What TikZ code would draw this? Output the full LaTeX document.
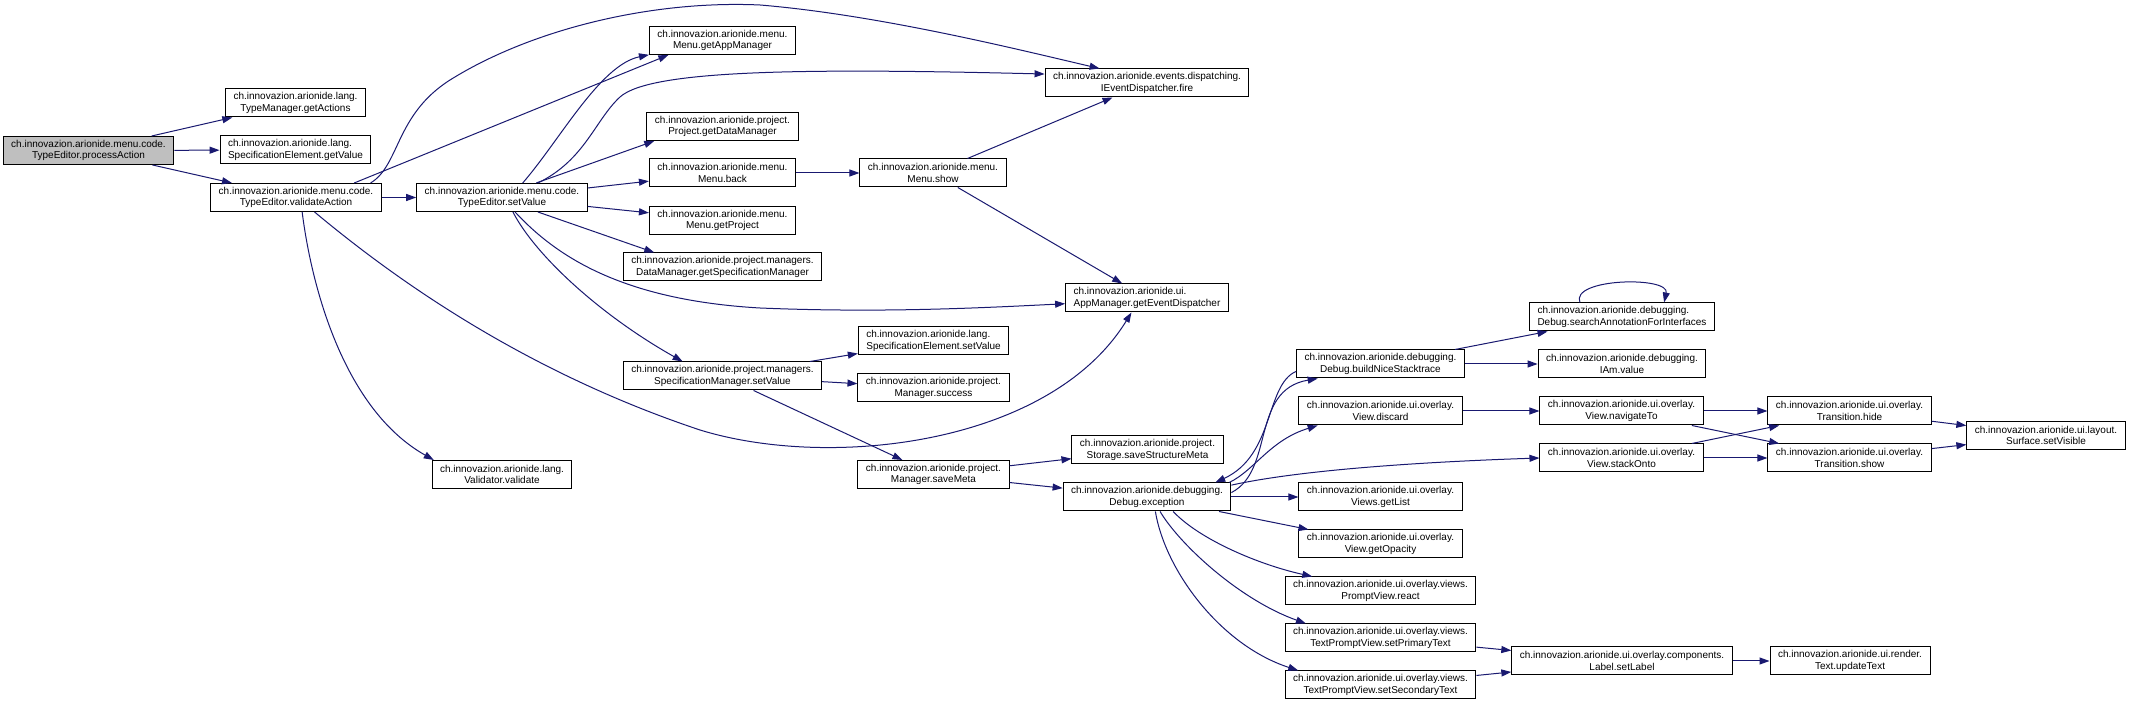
\documentclass[tikz,border=0pt]{standalone}
\usepackage{fontspec}
\setmainfont{Liberation Sans}
\usetikzlibrary{arrows.meta}
\definecolor{edgeblue}{HTML}{191970}
\definecolor{focusgrey}{HTML}{BFBFBF}
\newcommand{\boxfont}{\fontsize{5}{5.6}\selectfont}

\begin{document}
\begin{tikzpicture}[x=0.5pt,y=-0.5pt,
  fn/.style={draw=black,line width=0.5pt,fill=white,minimum height=14pt,inner xsep=4pt,inner ysep=0pt,align=center,font=\boxfont},
  fnleft/.style={fn,align=left},
  call/.style={edgeblue,line width=0.5pt,-{Triangle[length=5pt,width=3.5pt]}}]
\fill[white] (0,0) rectangle (2130,704);
\useasboundingbox (0,0) rectangle (2130,704);
\node[fn,fill=focusgrey] (processAction) at (88.5,150.5) {ch.innovazion.arionide.menu.code.\\TypeEditor.processAction};
\node[fn] (getActions) at (295.5,103) {ch.innovazion.arionide.lang.\\TypeManager.getActions};
\node[fnleft] (getValue) at (295.5,150) {ch.innovazion.arionide.lang.\\SpecificationElement.getValue};
\node[fn] (validateAction) at (296,197.5) {ch.innovazion.arionide.menu.code.\\TypeEditor.validateAction};
\node[fn] (typeSetValue) at (502,197.5) {ch.innovazion.arionide.menu.code.\\TypeEditor.setValue};
\node[fn] (validate) at (502,474.5) {ch.innovazion.arionide.lang.\\Validator.validate};
\node[fn] (getAppManager) at (722.5,40.5) {ch.innovazion.arionide.menu.\\Menu.getAppManager};
\node[fn] (getDataManager) at (722.5,126.5) {ch.innovazion.arionide.project.\\Project.getDataManager};
\node[fn] (menuBack) at (722.5,173) {ch.innovazion.arionide.menu.\\Menu.back};
\node[fn] (getProject) at (722.5,220.5) {ch.innovazion.arionide.menu.\\Menu.getProject};
\node[fn] (getSpecManager) at (722.5,267) {ch.innovazion.arionide.project.managers.\\DataManager.getSpecificationManager};
\node[fn] (specSetValue) at (722.5,376) {ch.innovazion.arionide.project.managers.\\SpecificationManager.setValue};
\node[fn] (menuShow) at (933,173) {ch.innovazion.arionide.menu.\\Menu.show};
\node[fnleft] (elemSetValue) at (933.5,341) {ch.innovazion.arionide.lang.\\SpecificationElement.setValue};
\node[fn] (success) at (933.5,388) {ch.innovazion.arionide.project.\\Manager.success};
\node[fn] (saveMeta) at (933.5,474.5) {ch.innovazion.arionide.project.\\Manager.saveMeta};
\node[fn] (fire) at (1147,83) {ch.innovazion.arionide.events.dispatching.\\IEventDispatcher.fire};
\node[fnleft] (getEventDispatcher) at (1147,298) {ch.innovazion.arionide.ui.\\AppManager.getEventDispatcher};
\node[fn] (saveStructureMeta) at (1147.5,450) {ch.innovazion.arionide.project.\\Storage.saveStructureMeta};
\node[fn] (exception) at (1147,497) {ch.innovazion.arionide.debugging.\\Debug.exception};
\node[fn] (buildNiceStacktrace) at (1380.5,364) {ch.innovazion.arionide.debugging.\\Debug.buildNiceStacktrace};
\node[fn] (discard) at (1380.5,411) {ch.innovazion.arionide.ui.overlay.\\View.discard};
\node[fn] (getList) at (1380.5,497) {ch.innovazion.arionide.ui.overlay.\\Views.getList};
\node[fn] (getOpacity) at (1380.5,544) {ch.innovazion.arionide.ui.overlay.\\View.getOpacity};
\node[fn] (react) at (1380.5,591) {ch.innovazion.arionide.ui.overlay.views.\\PromptView.react};
\node[fn] (setPrimaryText) at (1380.5,638) {ch.innovazion.arionide.ui.overlay.views.\\TextPromptView.setPrimaryText};
\node[fn] (setSecondaryText) at (1380.5,685) {ch.innovazion.arionide.ui.overlay.views.\\TextPromptView.setSecondaryText};
\node[fnleft] (searchAnnotation) at (1622,317) {ch.innovazion.arionide.debugging.\\Debug.searchAnnotationForInterfaces};
\node[fn] (iamValue) at (1622,364) {ch.innovazion.arionide.debugging.\\IAm.value};
\node[fn] (navigateTo) at (1621.5,411) {ch.innovazion.arionide.ui.overlay.\\View.navigateTo};
\node[fn] (stackOnto) at (1621.5,458) {ch.innovazion.arionide.ui.overlay.\\View.stackOnto};
\node[fn] (setLabel) at (1622,661) {ch.innovazion.arionide.ui.overlay.components.\\Label.setLabel};
\node[fn] (hide) at (1849.5,411) {ch.innovazion.arionide.ui.overlay.\\Transition.hide};
\node[fn] (show) at (1849.5,458) {ch.innovazion.arionide.ui.overlay.\\Transition.show};
\node[fn] (updateText) at (1850,661) {ch.innovazion.arionide.ui.render.\\Text.updateText};
\node[fn] (setVisible) at (2046,435.5) {ch.innovazion.arionide.ui.layout.\\Surface.setVisible};
\draw[call] (processAction) -- (getActions);
\draw[call] (processAction) -- (getValue);
\draw[call] (processAction) -- (validateAction);
\draw[call] (validateAction) -- (typeSetValue);
\draw[call] (validateAction.14) -- (getAppManager.195);
\draw[call] (validateAction.11) .. controls (400,165) and (395,115) .. (450,80) .. controls (530,30) and (650,0) .. (760,5) .. controls (880,15) and (1020,50) .. (fire.163);
\draw[call] (validateAction.322) .. controls (390,275) and (520,370) .. (700,430) .. controls (830,470) and (1050,445) .. (getEventDispatcher.223);
\draw[call] (validateAction.293) .. controls (312,290) and (345,410) .. (validate.168);
\draw[call] (typeSetValue.35) .. controls (560,140) and (600,65) .. (getAppManager.191);
\draw[call] (typeSetValue.22) .. controls (585,160) and (595,120) .. (620,97) .. controls (650,70) and (800,68) .. (fire.175);
\draw[call] (typeSetValue.23) -- (getDataManager.192);
\draw[call] (typeSetValue) -- (menuBack);
\draw[call] (typeSetValue) -- (getProject);
\draw[call] (typeSetValue.338) -- (getSpecManager.168);
\draw[call] (typeSetValue.312) .. controls (555,255) and (620,300) .. (760,308) .. controls (880,313) and (980,308) .. (getEventDispatcher.184);
\draw[call] (typeSetValue.307) .. controls (535,255) and (600,315) .. (specSetValue.160);
\draw[call] (menuBack) -- (menuShow);
\draw[call] (menuShow) -- (fire);
\draw[call] (menuShow) -- (getEventDispatcher);
\draw[call] (specSetValue) -- (elemSetValue);
\draw[call] (specSetValue) -- (success);
\draw[call] (specSetValue) -- (saveMeta);
\draw[call] (saveMeta) -- (saveStructureMeta);
\draw[call] (saveMeta) -- (exception);
\draw[call] (exception.3) .. controls (1275,470) and (1250,390) .. (buildNiceStacktrace.193);
\draw[call] (buildNiceStacktrace.185) .. controls (1265,385) and (1275,455) .. (exception.12);
\draw[call] (exception.10) .. controls (1255,470) and (1270,440) .. (discard.193);
\draw[call] (exception.8) .. controls (1300,470) and (1420,462) .. (stackOnto.west);
\draw[call] (exception) -- (getList);
\draw[call] (exception) -- (getOpacity);
\draw[call] (exception.331) .. controls (1200,540) and (1260,565) .. (react.168);
\draw[call] (exception.312) .. controls (1180,545) and (1240,600) .. (setPrimaryText.169);
\draw[call] (exception.300) .. controls (1165,570) and (1220,645) .. (setSecondaryText.170);
\draw[call] (buildNiceStacktrace) -- (searchAnnotation);
\draw[call] (buildNiceStacktrace) -- (iamValue);
\draw[call] (searchAnnotation.161) .. controls (1570,278) and (1670,276) .. (searchAnnotation.19);
\draw[call] (discard) -- (navigateTo);
\draw[call] (navigateTo) -- (hide);
\draw[call] (navigateTo) -- (show);
\draw[call] (stackOnto) -- (hide);
\draw[call] (stackOnto) -- (show);
\draw[call] (hide) -- (setVisible);
\draw[call] (show) -- (setVisible);
\draw[call] (setPrimaryText) -- (setLabel);
\draw[call] (setSecondaryText) -- (setLabel);
\draw[call] (setLabel) -- (updateText);
\end{tikzpicture}
\end{document}
